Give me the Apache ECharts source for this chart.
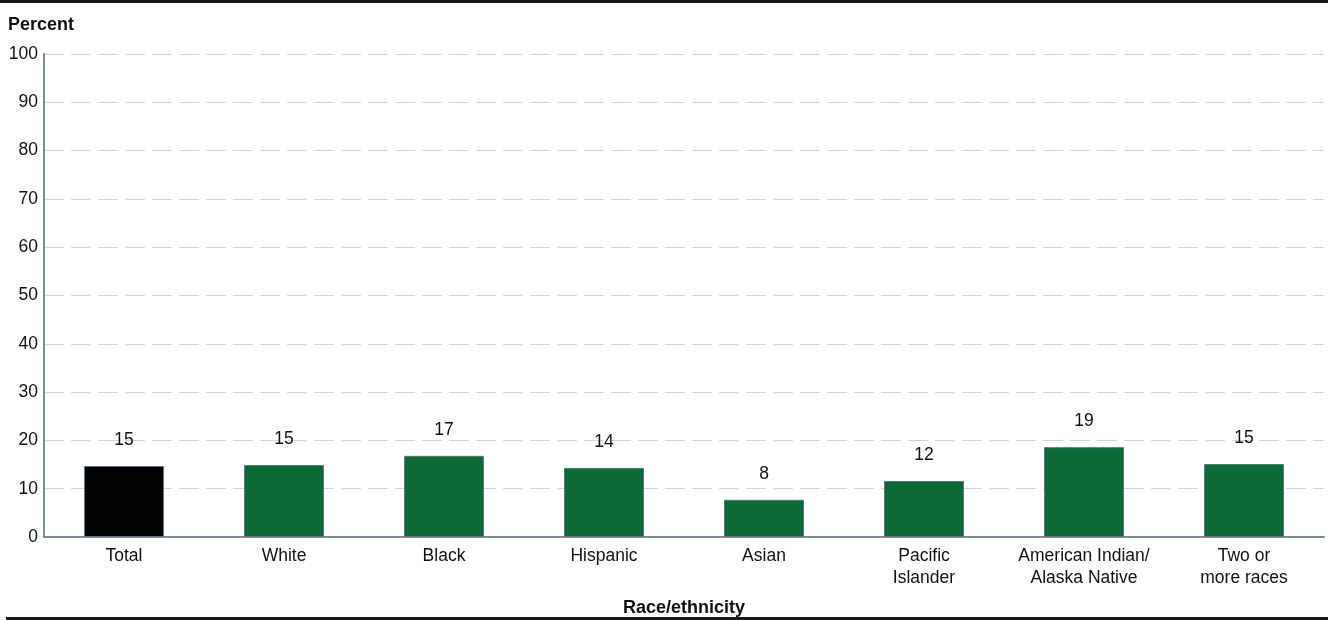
<!DOCTYPE html>
<html><head><meta charset="utf-8">
<script src="https://cdn.jsdelivr.net/npm/echarts@6/dist/echarts.min.js"></script>
<style>html,body{margin:0;padding:0;background:#fff}#c{width:1328px;height:620px}</style>
</head><body><div id="c"></div>
<script>
const categories = ["Total","White","Black","Hispanic","Asian","Pacific\nIslander","American Indian/\nAlaska Native","Two or\nmore races"];
const values = [14.7, 14.9, 16.8, 14.3, 7.7, 11.6, 18.6, 15.1];
const labels = ["15","15","17","14","8","12","19","15"];
const barColors = ["#030303","#0e6939","#0e6939","#0e6939","#0e6939","#0e6939","#0e6939","#0e6939"];
const yTicks = [0,10,20,30,40,50,60,70,80,90,100];

const chart = echarts.init(document.getElementById('c'), null, {renderer:'canvas'});
const font = '"Liberation Sans", Arial, sans-serif';
chart.setOption({
  animation:false,
  grid:{left:44,right:4,top:54,bottom:83},
  graphic:[
    {type:'rect',shape:{x:0,y:0,width:1328,height:3},style:{fill:'#1a1a1a'}},
    {type:'rect',shape:{x:6,y:617,width:1322,height:3},style:{fill:'#1a1a1a'}},
    {type:'text',x:8,y:25,style:{text:'Percent',font:'bold 18px '+font,fill:'#111',textVerticalAlign:'middle'}},
    {type:'text',x:684,y:608,style:{text:'Race/ethnicity',font:'bold 18px '+font,fill:'#111',textAlign:'center',textVerticalAlign:'middle'}}
  ],
  xAxis:{type:'category',data:categories,
    axisLine:{lineStyle:{color:'#7d8c9c',width:2}},
    axisTick:{show:false},
    axisLabel:{color:'#111',fontSize:17.5,fontFamily:font,lineHeight:22,margin:8,interval:0}},
  yAxis:{type:'value',min:0,max:100,interval:10,
    axisLine:{show:true,lineStyle:{color:'#7d8c9c',width:2}},
    axisTick:{show:false},
    axisLabel:{color:'#111',fontSize:17.5,fontFamily:font,margin:6,
      formatter:v=>yTicks.includes(v)?String(v):''},
    splitLine:{lineStyle:{color:'#ccd6de',type:[20,7],width:1}}},
  series:[{type:'bar',barWidth:'50%',
    data:values.map((v,i)=>({value:v,itemStyle:{color:barColors[i]},label:{formatter:labels[i]}})),
    itemStyle:{borderColor:'#5f7385',borderWidth:1},
    label:{show:true,position:'top',distance:17,color:'#111',fontSize:17.5,fontFamily:font}}]
});
</script></body></html>
